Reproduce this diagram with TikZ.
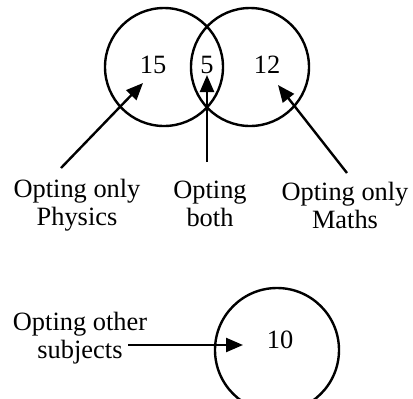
\documentclass[tikz,border=0pt]{standalone}
\usepackage{fontspec}
\setmainfont{Liberation Serif}
\usetikzlibrary{arrows.meta, positioning}

\tikzset{
    setcirc/.style={draw, line width=1.2pt},
    arr/.style={line width=1.2pt, -{Triangle[length=8.5pt,width=7pt]}},
    lbl/.style={align=center, inner sep=0pt, font=\fontsize{13.2pt}{14pt}\selectfont},
    num/.style={inner sep=0pt, font=\fontsize{13.2pt}{14pt}\selectfont}
}

\begin{document}
\begin{tikzpicture}[x=0.5pt, y=-0.5pt]
        \useasboundingbox (0,0) rectangle (413,398);
        \clip (0,0) rectangle (413,398);
        
        % Circles
        \draw[setcirc] (164,67) circle[radius=59];
        \draw[setcirc] (250,67) circle[radius=59];
        \draw[setcirc] (277,350) circle[radius=62];
        
        % Numbers
        \node[num] (nPhy) at (153,65) {15};
        \node[num] (nBoth) at (207,65) {5};
        \node[num] (nMath) at (267,65) {12};
        \node[num] (nOther) at (280,340) {10};
        
        % Labels
        \node[lbl] (lblPhy) at (77,205) {Opting only\\Physics};
        \node[lbl] (lblBoth) at (210,204) {Opting\\both};
        \node[lbl] (lblMath) at (345,205) {Opting only\\Maths};
        \node[lbl] (lblOther) at (80,338) {Opting other\\subjects};
        
        % Arrows
        \coordinate (tPhy) at (143,83);
        \coordinate (tBoth) at (207,75);
        \coordinate (tMath) at (278,85);
        \coordinate (tOther) at (243,345);
        \draw[arr] (lblPhy) ++(-16,-37) -- (tPhy);
        \draw[arr] (lblBoth) ++(-3,-42) -- (tBoth);
        \draw[arr] (lblMath) ++(2,-32) -- (tMath);
        \draw[arr] (lblOther) ++(48,7) -- (tOther);
    \end{tikzpicture}
\end{document}
